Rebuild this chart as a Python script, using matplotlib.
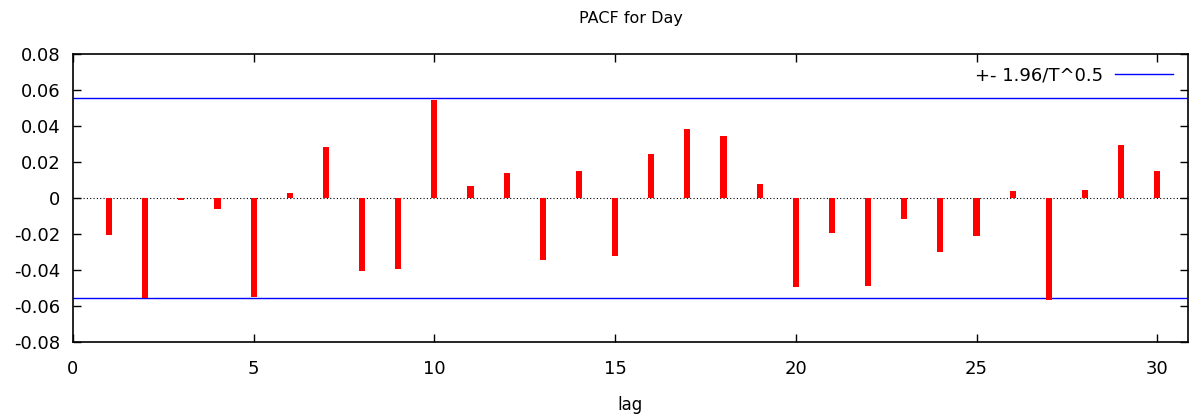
import matplotlib.pyplot as plt

# PACF values
lags = list(range(1, 31))
pacf = [-0.0207, -0.0556, -0.0013, -0.0061, -0.0550, 0.0030, 0.0283, -0.0406, -0.0394, 0.0543,
        0.0067, 0.0141, -0.0343, 0.0150, -0.0322, 0.0243, 0.0381, 0.0343, 0.0080, -0.0494,
        -0.0194, -0.0489, -0.0115, -0.0298, -0.0213, 0.0039, -0.0565, 0.0043, 0.0293, 0.0148]
band = 0.0557   # 1.96 / sqrt(T)

x_ticks = [0, 5, 10, 15, 20, 25, 30]
y_ticks = [-0.08, -0.06, -0.04, -0.02, 0, 0.02, 0.04, 0.06, 0.08]

fig = plt.figure(figsize=(11.9, 4.2), dpi=100)
ax = fig.add_axes([0.0613, 0.1857, 0.937, 0.6857])

ax.bar(lags, pacf, width=0.17, color='#ff0000', zorder=3)
ax.axhline(0, color='black', linewidth=0.8, linestyle=(0, (1, 2)), zorder=2)
ax.axhline(band, color='#0000ff', linewidth=1.0, label='+- 1.96/T^0.5')
ax.axhline(-band, color='#0000ff', linewidth=1.0)

ax.set_xlim(0, 30.85)
ax.set_ylim(-0.08, 0.08)
ax.set_xticks(x_ticks)
ax.set_yticks(y_ticks)
ax.set_yticklabels(['-0.08', '-0.06', '-0.04', '-0.02', '0', '0.02', '0.04', '0.06', '0.08'])
ax.tick_params(direction='in', top=True, right=True, length=6, width=1, labelsize=13)
ax.tick_params(axis='x', pad=13)
ax.tick_params(axis='y', pad=9)
for s in ax.spines.values():
    s.set_linewidth(1.2)

ax.set_xlabel('lag', fontsize=12, labelpad=13)
ax.set_title('PACF for Day', fontsize=11.5, pad=22)

ax.legend(loc='upper right', frameon=False, markerfirst=False, fontsize=13,
          handlelength=3.2, handletextpad=0.7, borderaxespad=0.3, bbox_to_anchor=(0.998, 1.0))

fig.savefig('out.png', dpi=100)
